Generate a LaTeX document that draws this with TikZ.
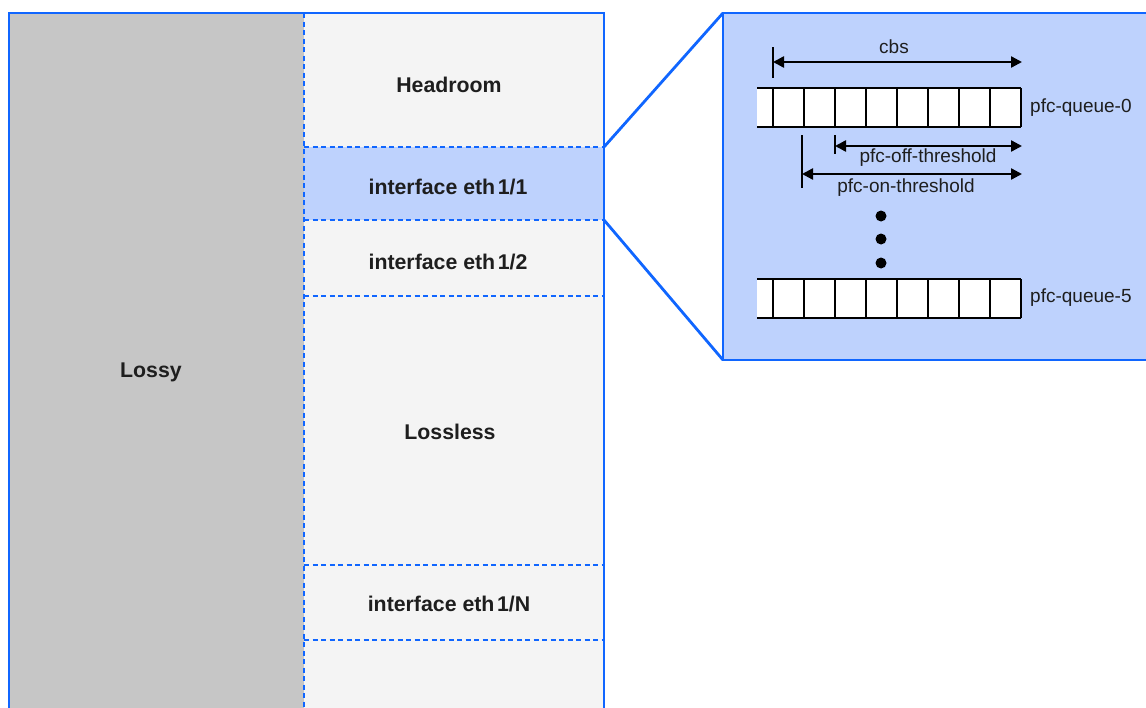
\documentclass[tikz,border=0pt]{standalone}
\usepackage{fontspec}
\setmainfont{Liberation Sans}
\usetikzlibrary{arrows.meta}

\definecolor{edgeblue}{RGB}{16,102,255}
\definecolor{zoomfill}{RGB}{190,210,253}
\definecolor{lossygray}{RGB}{198,198,198}
\definecolor{poolgray}{RGB}{244,244,244}
\definecolor{ink}{RGB}{30,30,30}

\begin{document}
\begin{tikzpicture}[x=1pt,y=-1pt,
  region/.style={inner sep=0pt, outer sep=0pt, anchor=north west, draw=none},
  partline/.style={edgeblue, line width=2.2pt, dash pattern=on 5pt off 3.5pt},
  frame/.style={edgeblue, line width=2.8pt},
  title/.style={font=\fontsize{21.3}{25}\selectfont\bfseries, text=ink, inner sep=0pt},
  qlabel/.style={font=\fontsize{19}{22}\selectfont, text=ink, inner sep=0pt},
  qline/.style={line width=2.8pt, black},
  tick/.style={line width=2.4pt, black},
  dim/.style={line width=2.4pt, {Triangle[length=11pt,width=11pt]}-{Triangle[length=11pt,width=11pt]}},
]
\useasboundingbox (0,0) rectangle (1146,707);
\clip (0,0) rectangle (1146,707);
\fill[white] (0,0) rectangle (1146,707);

% buffer pool regions
\node[region, fill=lossygray, minimum width=295pt, minimum height=710pt] (lossy) at (9,13) {};
\node[region, fill=poolgray, minimum width=300pt, minimum height=134pt] (headroom) at (304,13) {};
\node[region, fill=zoomfill, minimum width=300pt, minimum height=73pt] (eth11) at (304,147) {};
\node[region, fill=poolgray, minimum width=300pt, minimum height=76pt] (eth12) at (304,220) {};
\node[region, fill=poolgray, minimum width=300pt, minimum height=269pt] (lossless) at (304,296) {};
\node[region, fill=poolgray, minimum width=300pt, minimum height=75pt] (ethN) at (304,565) {};
\node[region, fill=poolgray, minimum width=300pt, minimum height=70pt] (tail) at (304,640) {};

% dashed partitions
\draw[partline] (headroom.north west) -- (tail.south west);
\draw[partline] (eth11.north west) -- (eth11.north east);
\draw[partline] (eth11.south west) -- (eth11.south east);
\draw[partline] (eth12.south west) -- (eth12.south east);
\draw[partline] (ethN.north west) -- (ethN.north east);
\draw[partline] (ethN.south west) -- (ethN.south east);

% outer frame
\draw[frame] (lossy.south west) -- (lossy.north west) -- (headroom.north east) -- (tail.south east);

% region labels
\node[title] (lossylab) at (151,372) {Lossy};
\node[title] (headlab) at (449,85) {Headroom};
\node[title] (eth11lab) at (448,187) {interface eth\hspace{0.12em}1/1};
\node[title] (eth12lab) at (448,262) {interface eth\hspace{0.12em}1/2};
\node[title] (losslesslab) at (450,432) {Lossless};
\node[title] (ethNlab) at (449,604) {interface eth\hspace{0.12em}1/N};

% zoomed view of one interface
\node[region, fill=zoomfill, draw=edgeblue, line width=2.8pt, minimum width=430pt, minimum height=347pt] (panel) at (723,13) {};
\draw[frame] (eth11.north east) -- (panel.north west);
\draw[frame] (eth11.south east) -- (panel.south west);

% queues
\foreach \q/\y in {q0/88, q5/279} {
  \fill[white] (757,\y) rectangle (1021,{\y+39});
  \draw[qline] (757,\y) -- (1021,\y) (757,{\y+39}) -- (1021,{\y+39});
  \foreach \k in {0,...,8} \draw[qline] ({773+31*\k},\y) -- ({773+31*\k},{\y+39});
}
\node[qlabel, anchor=west] (q0lab) at (1030,108) {pfc-queue-0};
\node[qlabel, anchor=west] (q5lab) at (1030,298) {pfc-queue-5};

% thresholds
\coordinate (cbsL) at (773,62);
\coordinate (cbsR) at (1022,62);
\draw[tick] (773,47) -- (773,78);
\draw[dim] (cbsL) -- (cbsR);
\node[qlabel] (cbslab) at (894,47) {cbs};

\coordinate (offL) at (835,146);
\coordinate (offR) at (1022,146);
\draw[tick] (835,135) -- (835,154);
\draw[dim] (offL) -- (offR);
\node[qlabel] (offlab) at (928,158) {pfc-off-threshold};

\coordinate (onL) at (802,174);
\coordinate (onR) at (1022,174);
\draw[tick] (802,135) -- (802,188);
\draw[dim] (onL) -- (onR);
\node[qlabel] (onlab) at (906,188) {pfc-on-threshold};

% ellipsis between queues
\foreach \y/\n in {216/d1, 239/d2, 263/d3}
  \fill (881,\y) circle[radius=5.5pt] coordinate (\n);
\end{tikzpicture}
\end{document}
